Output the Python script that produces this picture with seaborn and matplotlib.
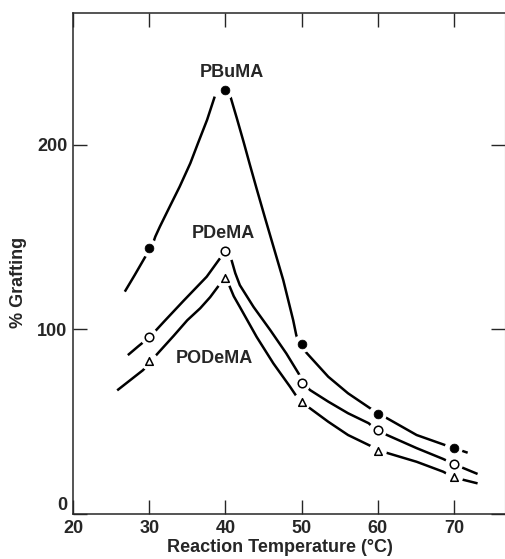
import pandas as pd
import seaborn as sns
import matplotlib.pyplot as plt

# measured points (marker positions)
temps = [30, 40, 50, 60, 70]
pbuma = [144, 229.6, 92, 54, 36]
pdema = [96, 142.6, 70.8, 45.3, 27]
podema = [82.8, 128, 60.5, 34.1, 19.9]

# hand-drawn curves (the peak itself is hidden by the marker)
pbuma_cx = [26.8, 28.1, 29.5, 30.3, 30.8, 31.4, 32.7, 34.0, 35.4, 36.4, 37.6, 38.6,
            40.6, 41.5, 42.4, 43.2, 44.1, 45.2, 46.3, 47.6, 48.9, 49.3, 49.7,
            50.7, 53.5, 56.1, 59.0, 60.3, 61.6, 65.1, 68.8, 69.9, 71.8]
pbuma_cy = [120.5, 129.5, 139.5, 144.3, 150.3, 155.7, 166.6, 177.4, 190.1, 200.9, 213.6, 226.2,
            227.1, 214.5, 201.5, 189.5, 176.3, 160.5, 145, 126.7, 105, 97, 91.9,
            87.1, 74.4, 65.4, 57.3, 54, 51, 42.8, 37.4, 35.9, 33.2]
pdema_cx = [27.2, 28.6, 30.1, 32.0, 34.5, 37.55, 39.3, 40.8, 41.3, 41.9, 43.7, 45.9, 48.0,
            49.6, 50.3, 51.1, 53.5, 56.1, 58.8, 59.9, 65.1, 68.6, 70.0, 73.1]
pdema_cy = [86.1, 91.0, 96, 104.5, 115.5, 128.6, 138.6, 137.7, 130.5, 124.0, 112.2, 99.6, 87.0,
            76.2, 70.8, 67.2, 60.9, 54.6, 49.2, 45.2, 35.7, 29.8, 27, 21.7]
podema_cx = [25.8, 27.5, 29.2, 30.2, 31.4, 33.2, 35.0, 36.7, 38.0, 39.1, 40.4, 41.1, 41.9,
             44.1, 46.3, 48.5, 49.9, 51.1, 53.5, 56.1, 58.8, 60.4, 65.1, 68.6, 69.9, 73.1]
podema_cy = [67, 72.5, 78, 82.8, 88.3, 96.5, 105, 111.5, 117.5, 123.6, 124.9, 118.0, 112.2,
             96, 81.6, 68.9, 60.3, 57.3, 50, 42.8, 37.4, 34.1, 28.3, 22.9, 19.9, 16.6]

names = ['PBuMA', 'PDeMA', 'PODeMA']
label_pos = [(40.9, 239.3), (39.75, 152.1), (38.6, 84.5)]

curves = pd.concat([
    pd.DataFrame({'temp': pbuma_cx, 'graft': pbuma_cy, 'series': 'PBuMA'}),
    pd.DataFrame({'temp': pdema_cx, 'graft': pdema_cy, 'series': 'PDeMA'}),
    pd.DataFrame({'temp': podema_cx, 'graft': podema_cy, 'series': 'PODeMA'}),
])
# rising and falling branches are drawn as separate strokes
curves['branch'] = curves['series'] + (curves['temp'] < 40).map({True: '_up', False: '_down'})

points = pd.DataFrame({'temp': temps * 3, 'graft': pbuma + pdema + podema,
                       'series': [n for n in names for _ in temps]})

sns.set_style('ticks')
plt.rcParams['font.family'] = ['Liberation Sans', 'DejaVu Sans']
plt.rcParams['font.weight'] = 'bold'

fig = plt.figure(figsize=(5.06, 5.59), dpi=100)
ax = fig.add_axes([73 / 506, 45 / 559, 432 / 506, 501 / 559])

sns.lineplot(data=curves, x='temp', y='graft', units='branch', estimator=None, sort=False,
             color='black', lw=1.8, ax=ax, zorder=2)
for ln in ax.lines:
    ln.set_solid_joinstyle('round')
    ln.set_solid_capstyle('butt')

# white halo so the curves break around the symbols
sns.scatterplot(data=points, x='temp', y='graft', s=170, color='white', edgecolor='none',
                ax=ax, zorder=3, legend=False)

sns.scatterplot(data=points[points.series == 'PBuMA'], x='temp', y='graft', marker='o',
                s=40, color='black', edgecolor='black', ax=ax, zorder=4, legend=False)
sns.scatterplot(data=points[points.series == 'PDeMA'], x='temp', y='graft', marker='o',
                s=38, facecolor='white', edgecolor='black', linewidth=1.1, ax=ax, zorder=4,
                legend=False)
sns.scatterplot(data=points[points.series == 'PODeMA'], x='temp', y='graft', marker='^',
                s=30, facecolor='white', edgecolor='black', linewidth=1.1, ax=ax, zorder=4,
                legend=False)

for name, (tx, ty) in zip(names, label_pos):
    ax.text(tx, ty, name, ha='center', va='center', fontsize=13, fontweight='bold')

ax.set_xlim(20, 76.7)
ax.set_ylim(0, 271.5)
ax.set_xticks([20, 30, 40, 50, 60, 70])
ax.set_yticks([0, 100, 200])
ax.tick_params(direction='in', top=True, right=True, length=10, width=1.0,
               labelsize=13, pad=4)
for lab in ax.get_xticklabels() + ax.get_yticklabels():
    lab.set_fontweight('bold')
# the "0" sits just above the corner in the original
ax.get_yticklabels()[0].set_va('bottom')

for side in ['left', 'bottom', 'top']:
    ax.spines[side].set_linewidth(1.1)
ax.spines['right'].set_linewidth(0.8)
ax.spines['right'].set_color('0.45')

ax.set_xlabel('Reaction Temperature (°C)', fontsize=13, fontweight='bold')
ax.set_ylabel('% Grafting', fontsize=13, fontweight='bold')
ax.xaxis.set_label_coords(0.478, -0.05)
ax.yaxis.set_label_coords(-0.106, 0.462)

fig.savefig('out.png', dpi=100)
